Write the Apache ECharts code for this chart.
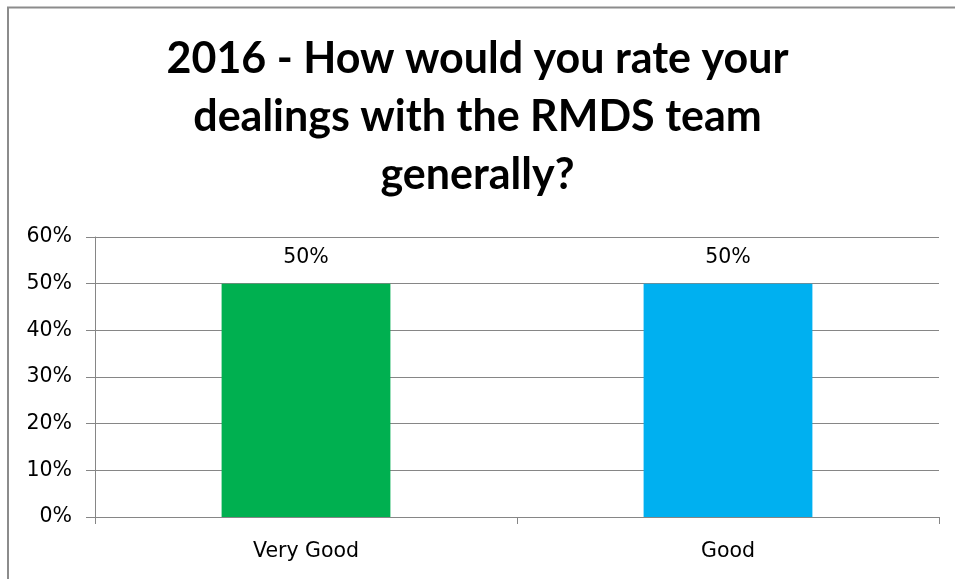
<!DOCTYPE html>
<html>
<head>
<meta charset="utf-8">
<script src="https://cdn.jsdelivr.net/npm/echarts@6/dist/echarts.min.js"></script>
<style>
  html, body { margin: 0; padding: 0; background: #fff; }
  #chart { width: 955px; height: 579px; }
</style>
</head>
<body>
<div id="chart"></div>
<script>
// Survey answers and their shares (percent)
const categories = ['Very Good', 'Good'];
const shares = [50, 50];
const barColors = ['#00B050', '#00B0F0'];
const yTicks = { min: 0, max: 60, interval: 10 };
const titleText = '2016 - How would you rate your\ndealings with the RMDS team\ngenerally?';

const titleFont = 'Lato, "Open Sans", "Noto Sans", sans-serif';
const labelFont = '"DejaVu Sans", "Open Sans", sans-serif';
const chart = echarts.init(document.getElementById('chart'), null, { renderer: 'canvas' });

chart.setOption({
  backgroundColor: '#ffffff',
  animation: false,
  title: {
    text: titleText,
    left: 'center',
    top: 25,
    textStyle: {
      fontFamily: titleFont,
      fontWeight: 'bold',
      fontSize: 43,
      lineHeight: 58,
      color: '#000000'
    }
  },
  grid: { left: 95, right: 16, top: 237, bottom: 62 },
  xAxis: {
    type: 'category',
    data: categories,
    axisLine: { show: true, lineStyle: { color: '#868686', width: 1 } },
    axisTick: { show: true, length: 7, lineStyle: { color: '#868686' } },
    axisLabel: { color: '#000', fontFamily: labelFont, fontSize: 20.5, margin: 24 },
    splitLine: { show: false }
  },
  yAxis: {
    type: 'value',
    min: yTicks.min,
    max: yTicks.max,
    interval: yTicks.interval,
    axisLine: { show: true, lineStyle: { color: '#868686', width: 1 } },
    axisTick: { show: true, length: 9, lineStyle: { color: '#868686' } },
    axisLabel: {
      color: '#000', fontFamily: labelFont, fontSize: 20.5, margin: 23,
      formatter: v => v + '%'
    },
    splitLine: { show: true, lineStyle: { color: '#868686', width: 1 } }
  },
  series: [{
    type: 'bar',
    barWidth: '40%',
    data: shares.map((v, i) => ({ value: v, itemStyle: { color: barColors[i] } })),
    label: {
      show: true,
      position: 'top',
      distance: 15,
      color: '#000',
      fontFamily: labelFont,
      fontSize: 20.5,
      formatter: p => p.value + '%'
    }
  }],
  graphic: [{
    type: 'polyline',
    shape: { points: [[8, 579], [8, 7.5], [955, 7.5]] },
    style: { stroke: '#8c8c8c', lineWidth: 2, fill: null },
    silent: true
  }]
});
</script>
</body>
</html>
